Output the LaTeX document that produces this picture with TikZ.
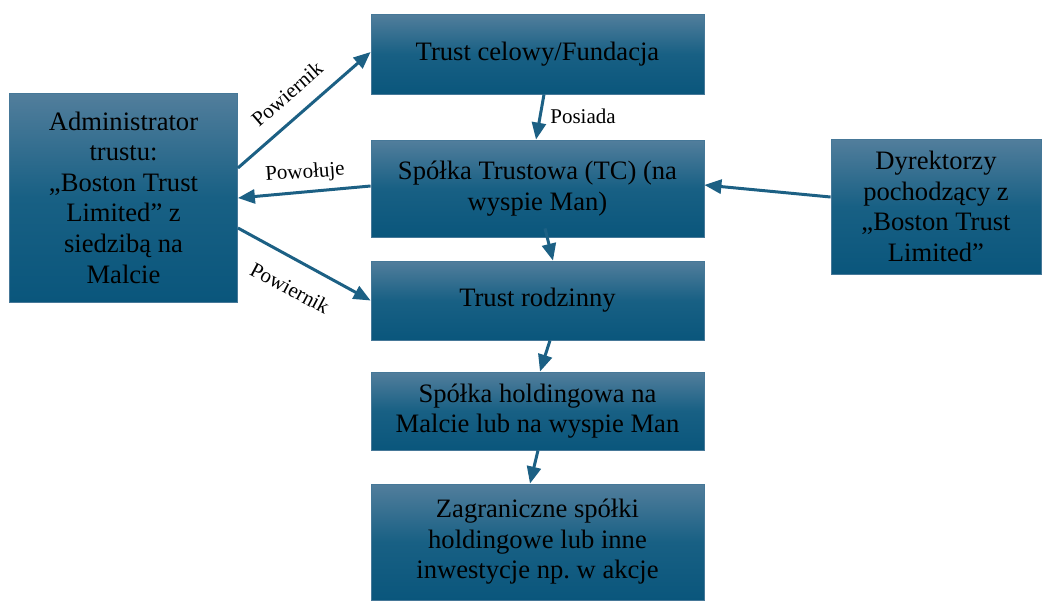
\documentclass[tikz,border=0pt]{standalone}
\usepackage{fontspec}
\setmainfont{Liberation Serif}
\frenchspacing
\usetikzlibrary{arrows.meta}
\definecolor{boxtop}{RGB}{82,126,156}
\definecolor{boxmid}{RGB}{24,96,132}
\definecolor{boxbot}{RGB}{10,86,124}
\definecolor{arrcol}{RGB}{28,96,132}
\definecolor{boxedge}{RGB}{70,120,152}
\tikzset{
  box/.style={draw=boxedge, line width=0.4pt, top color=boxtop, bottom color=boxbot, middle color=boxmid,
    align=center, font=\fontsize{13.3pt}{15.3pt}\selectfont, text=black, inner sep=2pt},
  arr/.style={draw=arrcol, line width=1.5pt, -{Triangle[length=8.5pt,width=7pt]}},
  lbl/.style={font=\fontsize{10.5pt}{12pt}\selectfont, fill=white, inner sep=1pt}
}
\begin{document}
\begin{tikzpicture}[x=0.5pt,y=-0.5pt]
\useasboundingbox (0,0) rectangle (1046,601);
\node[box, minimum width=114pt, minimum height=104.5pt] (admin) at (123.5,197.5)
  {Administrator\\trustu:\\,,Boston Trust\\Limited'' z\\siedzibą na\\Malcie};
\node[box, minimum width=166.5pt, minimum height=40pt] (celowy) at (537.5,54) {Trust celowy/Fundacja};
\node[box, minimum width=166.5pt, minimum height=48.5pt] (spolka) at (537.5,188.5) {Spółka Trustowa (TC) (na\\wyspie Man)};
\node[box, minimum width=166.5pt, minimum height=39.5pt] (rodz) at (537.5,300.5) {Trust rodzinny};
\node[box, minimum width=166.5pt, minimum height=39pt] (hold) at (537.5,411) {Spółka holdingowa na\\Malcie lub na wyspie Man};
\node[box, minimum width=166.5pt, minimum height=58pt] (zagr) at (537.5,542) {Zagraniczne spółki\\holdingowe lub inne\\inwestycje np. w akcje};
\node[box, minimum width=105pt, minimum height=67.5pt] (dyr) at (936,206.5) {Dyrektorzy\\pochodzący z\\,,Boston Trust\\Limited''};

\draw[arr] ([yshift=14.75pt]admin.east) -- ([yshift=1pt]celowy.west);
\draw[arr] ([yshift=1.25pt]spolka.west) -- ([yshift=-0.25pt]admin.east);
\draw[arr] ([yshift=-15.25pt]admin.east) -- (rodz.west);
\draw[arr] ([xshift=3.25pt]celowy.south) -- ([xshift=-0.75pt]spolka.north);
\draw[arr] ([xshift=3.75pt,yshift=4.5pt]spolka.south) -- ([xshift=7.75pt]rodz.north);
\draw[arr] ([xshift=6.25pt]rodz.south) -- ([xshift=1.25pt]hold.north);
\draw[arr] ([xshift=0.25pt]hold.south) -- ([xshift=-3.75pt]zagr.north);
\draw[arr] ([yshift=4.75pt]dyr.west) -- ([yshift=1.75pt]spolka.east);

\node[lbl, rotate=41] (l1) at (287,94) {Powiernik};
\node[lbl, rotate=4] (l2) at (305,173) {Powołuje};
\node[lbl, rotate=-28] (l3) at (290,288) {Powiernik};
\node[lbl] (l4) at (583,116) {Posiada};
\end{tikzpicture}
\end{document}
